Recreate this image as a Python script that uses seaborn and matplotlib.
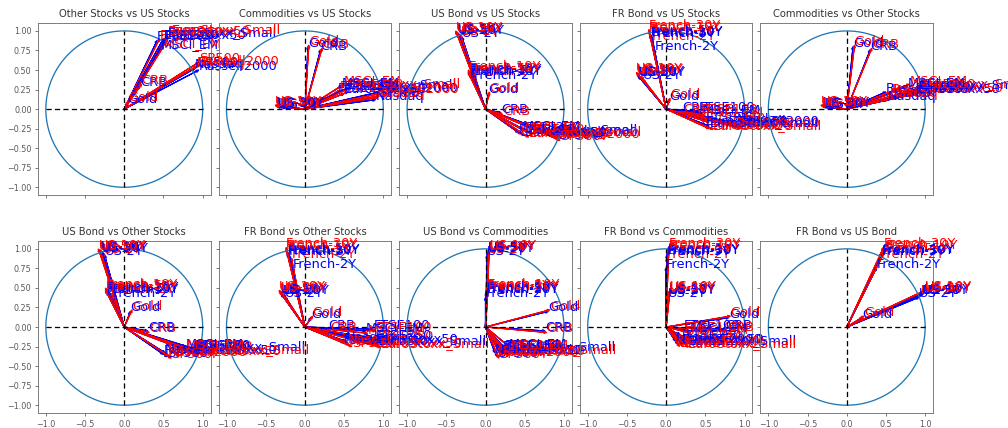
import numpy as np
import pandas as pd
import matplotlib
matplotlib.use("Agg")
import matplotlib.pyplot as plt
import seaborn as sns

sns.set_style("ticks")
plt.rcParams['font.family'] = ['DejaVu Sans']

# ---------------- data ----------------
variables = ["SP500", "Russell2000", "Nasdaq",
             "FTSE100", "FTSE250", "EuroStoxx50", "EuroStoxx_Small", "MSCI_EM",
             "CRB", "Gold",
             "US-2Y", "US-5Y", "US-10Y", "US-30Y",
             "French-2Y", "French-5Y", "French-10Y", "French-30Y"]
groups = ["US Stocks"] * 3 + ["Other Stocks"] * 5 + ["Commodities"] * 2 + ["US Bond"] * 4 + ["FR Bond"] * 4

# loadings of each variable on each factor (blue series)
blue_us_stocks    = [0.93, 0.95, 0.90, 0.42, 0.50, 0.50, 0.55, 0.47, 0.20, 0.04, -0.30, -0.35, -0.36, -0.35, -0.15, -0.18, -0.20, -0.20]
blue_other_stocks = [0.55, 0.50, 0.52, 0.88, 0.90, 0.90, 0.93, 0.78, 0.30, 0.08, -0.25, -0.30, -0.30, -0.28, -0.15, -0.20, -0.22, -0.22]
blue_commodities  = [0.15, 0.22, 0.12, 0.22, 0.25, 0.20, 0.27, 0.30, 0.76, 0.80, 0.02, 0.03, 0.04, 0.03, 0.00, 0.01, 0.02, 0.02]
blue_us_bond      = [-0.38, -0.35, -0.33, -0.30, -0.28, -0.34, -0.30, -0.25, -0.05, 0.20, 0.92, 0.97, 0.98, 0.96, 0.38, 0.45, 0.46, 0.44]
blue_fr_bond      = [-0.22, -0.20, -0.18, -0.03, -0.15, -0.20, -0.22, -0.05, -0.03, 0.12, 0.38, 0.42, 0.43, 0.42, 0.76, 0.92, 0.95, 0.94]

# loadings (red series)
red_us_stocks     = [0.95, 0.97, 0.92, 0.45, 0.55, 0.55, 0.60, 0.50, 0.22, 0.05, -0.32, -0.37, -0.38, -0.37, -0.18, -0.20, -0.22, -0.22]
red_other_stocks  = [0.60, 0.57, 0.55, 0.90, 0.93, 0.95, 0.97, 0.80, 0.32, 0.10, -0.27, -0.32, -0.33, -0.31, -0.17, -0.22, -0.24, -0.24]
red_commodities   = [0.17, 0.20, 0.15, 0.24, 0.27, 0.22, 0.28, 0.32, 0.78, 0.82, 0.03, 0.04, 0.05, 0.04, 0.01, 0.02, 0.03, 0.03]
red_us_bond       = [-0.40, -0.37, -0.36, -0.32, -0.30, -0.36, -0.33, -0.27, -0.07, 0.22, 0.95, 0.99, 1.00, 0.99, 0.43, 0.48, 0.50, 0.47]
red_fr_bond       = [-0.25, -0.23, -0.20, -0.05, -0.17, -0.25, -0.26, -0.08, -0.05, 0.14, 0.42, 0.45, 0.47, 0.46, 0.88, 0.96, 1.00, 1.02]

# panels: (y factor, x factor, groups shown)
stocks_comm = ["US Stocks", "Other Stocks", "Commodities"]
everything = ["US Stocks", "Other Stocks", "Commodities", "US Bond", "FR Bond"]
panels = [
    ("Other Stocks", "US Stocks", stocks_comm),
    ("Commodities", "US Stocks", stocks_comm + ["US Bond"]),
    ("US Bond", "US Stocks", everything),
    ("FR Bond", "US Stocks", everything),
    ("Commodities", "Other Stocks", stocks_comm + ["US Bond"]),
    ("US Bond", "Other Stocks", everything),
    ("FR Bond", "Other Stocks", everything),
    ("US Bond", "Commodities", everything),
    ("FR Bond", "Commodities", everything),
    ("FR Bond", "US Bond", ["Commodities", "US Bond", "FR Bond"]),
]
hidden_in_last = ["CRB"]

blue = pd.DataFrame({"variable": variables, "group": groups,
                     "US Stocks": blue_us_stocks, "Other Stocks": blue_other_stocks,
                     "Commodities": blue_commodities, "US Bond": blue_us_bond,
                     "FR Bond": blue_fr_bond})
red = pd.DataFrame({"variable": variables, "group": groups,
                    "US Stocks": red_us_stocks, "Other Stocks": red_other_stocks,
                    "Commodities": red_commodities, "US Bond": red_us_bond,
                    "FR Bond": red_fr_bond})

# ---------------- plot ----------------
fig, axes = plt.subplots(2, 5, figsize=(14, 428 / 72), dpi=72, sharex=True, sharey=True)
fig.patch.set_facecolor("white")
fig.subplots_adjust(left=0.0377, right=0.9256, top=0.946, bottom=0.035, wspace=0.047, hspace=0.267)

theta = np.linspace(0, 2 * np.pi, 400)
circle = pd.DataFrame({"x": np.cos(theta), "y": np.sin(theta), "t": theta})

for ax, (yf, xf, shown) in zip(axes.flat, panels):
    ax.set_facecolor("none")
    sns.lineplot(data=circle, x="x", y="y", ax=ax, color="#1f77b4", lw=1.3,
                 sort=False, estimator=None, units=None)
    ax.plot([-1, 1], [0, 0], ls=(0, (4, 2.5)), color="black", lw=1.3)
    ax.plot([0, 0], [-1, 1], ls=(0, (4, 2.5)), color="black", lw=1.3)
    for i in range(len(variables)):
        if groups[i] not in shown:
            continue
        if yf == "FR Bond" and xf == "US Bond" and variables[i] in hidden_in_last:
            continue
        for df, col in ((blue, "blue"), (red, "red")):
            x = df.loc[i, xf]
            y = df.loc[i, yf]
            ax.arrow(0, 0, x, y, color=col, head_width=0.03, head_length=0.035,
                     length_includes_head=True, lw=1.2)
            ax.text(x, y, variables[i], color=col, fontsize=13, clip_on=False)
    ax.set_title(f"{yf} vs {xf}", fontsize=10, color="0.2")
    ax.set_xlabel("")
    ax.set_ylabel("")
    ax.set_xlim(-1.1, 1.1)
    ax.set_ylim(-1.1, 1.1)
    ax.set_xticks([-1.0, -0.5, 0.0, 0.5, 1.0])
    ax.set_yticks([-1.0, -0.75, -0.5, -0.25, 0.0, 0.25, 0.5, 0.75, 1.0])
    ax.tick_params(labelsize=8, colors="0.35", length=3, width=0.8)
    for sp in ax.spines.values():
        sp.set_color("0.45")
        sp.set_linewidth(0.9)

fig.savefig("out.png", dpi=72, facecolor="white")
